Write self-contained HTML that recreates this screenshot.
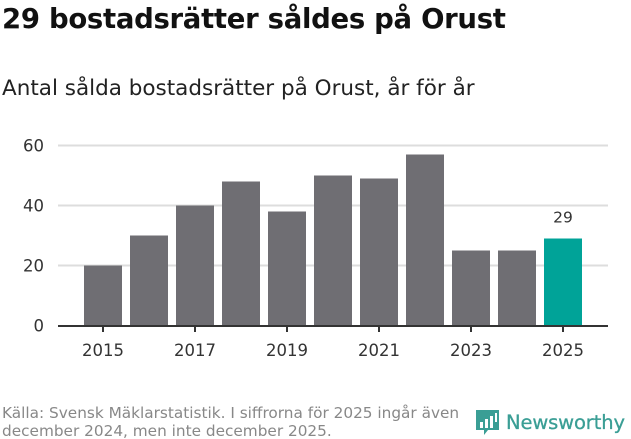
<!DOCTYPE html>
<html><head><meta charset="utf-8"><style>
body{margin:0;background:#fff;font-family:"DejaVu Sans","Liberation Sans",sans-serif;}
#wrap{position:relative;width:631px;height:439px;overflow:hidden}
h1{position:absolute;left:2px;top:3px;margin:0;font-size:27.5px;font-weight:bold;color:#111;letter-spacing:-0.3px}
h2{position:absolute;left:2px;top:76px;margin:0;font-size:21.5px;font-weight:normal;color:#222;letter-spacing:0px}
#src{position:absolute;left:2px;top:404px;font-size:15.3px;color:#888;line-height:18px}
#logo{position:absolute;left:475px;top:407px;}
</style></head><body><div id="wrap">
<h1>29 bostadsrätter såldes på Orust</h1>
<h2>Antal sålda bostadsrätter på Orust, år för år</h2>
<svg id="chart" width="631" height="439" style="position:absolute;left:0;top:0"></svg>
<div id="src">Källa: Svensk Mäklarstatistik. I siffrorna för 2025 ingår även<br>december 2024, men inte december 2025.</div>
<div id="logo">
<svg width="156" height="34"><path d="M1 3h23v20h-11l-4 5v-5h-8z" fill="#3a9e95"/><rect x="5" y="15" width="3" height="6" fill="#fff"/><rect x="10" y="12" width="3" height="9" fill="#fff"/><rect x="15" y="9" width="3" height="12" fill="#fff"/><rect x="20" y="6" width="2" height="9" fill="#fff"/>
<text x="31" y="22" font-family="DejaVu Sans, sans-serif" font-size="19.5" fill="#3a9e95" stroke="#3a9e95" stroke-width="0.3" textLength="119">Newsworthy</text></svg></div>
</div>
<script>
const years=[2015,2016,2017,2018,2019,2020,2021,2022,2023,2024,2025];
const values=[20,30,40,48,38,50,49,57,25,25,29];
const yTicks=[0,20,40,60];
const xTickLabels=[2015,2017,2019,2021,2023,2025];
const svg=document.getElementById('chart');
const NS='http://www.w3.org/2000/svg';
const y=v=>325.5-v*3;
const x=i=>103+i*46;
function mk(t,a){const e=document.createElementNS(NS,t);for(const k in a)e.setAttribute(k,a[k]);svg.appendChild(e);return e;}
yTicks.forEach(v=>{
 if(v>0){const g=mk('line',{x1:58,x2:608,y1:y(v),y2:y(v),stroke:'#ddd','stroke-width':2});
 
 }
 const t=mk('text',{x:44,y:y(v)+6,'text-anchor':'end','font-size':16.5,fill:'#333','font-family':'DejaVu Sans, sans-serif'});t.textContent=v;
 
 
});
values.forEach((v,i)=>{
 const last=i===values.length-1;
 const r=mk('rect',{x:x(i)-19,y:y(v),width:38,height:y(0)-y(v),fill:last?'#00a398':'#6f6e73'});
 
 
 if(last){const t=mk('text',{x:x(i),y:y(v)-16,'text-anchor':'middle','font-size':15.5,fill:'#333','font-family':'DejaVu Sans, sans-serif'});t.textContent=v;
 
 }
});
const ax=mk('line',{x1:58,x2:608,y1:326,y2:326,stroke:'#333','stroke-width':2});


xTickLabels.forEach(yr=>{
 const i=years.indexOf(yr);
 const tk=mk('line',{x1:x(i),x2:x(i),y1:326,y2:332,stroke:'#333','stroke-width':2});
 
 
 const t=mk('text',{x:x(i),y:356,'text-anchor':'middle','font-size':16.5,fill:'#333','font-family':'DejaVu Sans, sans-serif'});t.textContent=yr;
 
 
});
</script></body></html>
